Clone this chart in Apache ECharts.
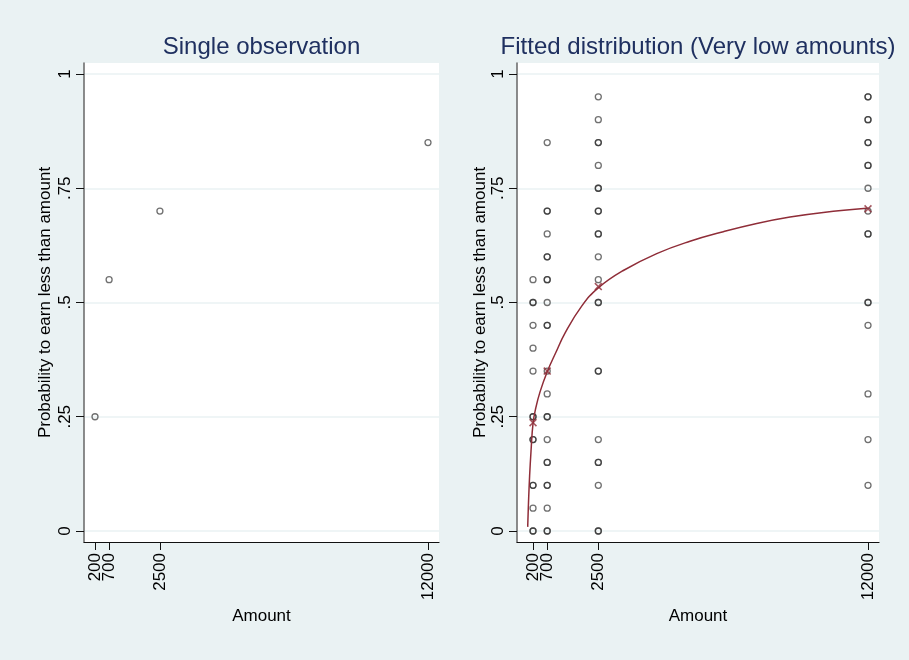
<!DOCTYPE html>
<html><head><meta charset="utf-8">
<script src="https://cdn.jsdelivr.net/npm/echarts@6/dist/echarts.min.js"></script>
<style>html,body{margin:0;padding:0;background:#fff}#c{width:909px;height:660px}</style>
</head><body><div id="c"></div>
<script>
// ---- data ----
const xTicks = [200, 700, 2500, 12000];
const xTickLabels = ['200', '700', '2500', '12000'];
const yTicks = [0, 0.25, 0.5, 0.75, 1];
const yTickLabels = ['0', '.25', '.5', '.75', '1'];

// Left panel: single observation
const singleX = [200, 700, 2500, 12000];
const singleY = [0.25, 0.55, 0.70, 0.85];

// Right panel: observations per amount (duplicates drawn twice)
const obs200 = [0, 0, 0.05, 0.10, 0.10, 0.20, 0.20, 0.25, 0.25, 0.35, 0.40, 0.45, 0.50, 0.50, 0.55];
const obs700 = [0, 0, 0.05, 0.10, 0.10, 0.15, 0.15, 0.20, 0.25, 0.25, 0.30, 0.35, 0.45, 0.45, 0.50, 0.55, 0.55, 0.60, 0.60, 0.65, 0.70, 0.70, 0.85];
const obs2500 = [0, 0, 0.10, 0.15, 0.15, 0.20, 0.35, 0.35, 0.50, 0.50, 0.55, 0.60, 0.65, 0.65, 0.70, 0.70, 0.75, 0.75, 0.80, 0.85, 0.85, 0.90, 0.95];
const obs12000 = [0.10, 0.20, 0.30, 0.45, 0.50, 0.50, 0.65, 0.65, 0.70, 0.75, 0.80, 0.80, 0.85, 0.85, 0.90, 0.90, 0.95, 0.95];

// Fitted values at the amounts
const fitX = [200, 700, 2500, 12000];
const fitY = [0.237, 0.35, 0.535, 0.705];

// Fitted distribution curve
const curveX = [13, 40, 80, 130, 200, 300, 450, 704, 1000, 1327, 1915, 2500, 3381, 4557, 5730, 6903, 8080, 9253, 10425, 11954];
const curveY = [0.009, 0.06, 0.12, 0.175, 0.235, 0.27, 0.305, 0.349, 0.39, 0.433, 0.492, 0.532, 0.57, 0.607, 0.634, 0.655, 0.673, 0.687, 0.697, 0.706];

// ---- build ----
const FONT = "'Liberation Sans', Arial, sans-serif";
const BG = '#eaf2f3';
const MAROON = '#8f2d38';
const pairs = (xs, ys) => xs.map((x, i) => [x, ys[i]]);
const col = (x, ys) => ys.map(y => [x, y]);
const rightObs = [].concat(col(200, obs200), col(700, obs700), col(2500, obs2500), col(12000, obs12000));
const lookup = (ticks, labels) => v => { const i = ticks.findIndex(t => Math.abs(t - v) < 1e-9); return i >= 0 ? labels[i] : ''; };

function xAxis(idx, min, max, labelVals, main) {
  return {
    type: 'value', gridIndex: idx, min: min, max: max, position: 'bottom', offset: 0,
    name: main ? 'Amount' : '', nameLocation: 'middle', nameGap: 63,
    nameTextStyle: { fontFamily: FONT, fontSize: 17, color: '#000' },
    axisLine: { show: main, onZero: false, lineStyle: { color: '#111', width: 1.2 } },
    axisTick: { show: main, length: 8, customValues: xTicks, lineStyle: { color: '#111' } },
    axisLabel: { customValues: labelVals, hideOverlap: false, rotate: 90, margin: 11, fontFamily: FONT, fontSize: 17, color: '#000',
      formatter: lookup(xTicks, xTickLabels) },
    splitLine: { show: false }
  };
}
function yAxis(idx, gap) {
  return {
    type: 'value', gridIndex: idx, min: -0.0241, max: 1.0241,
    name: 'Probability to earn less than amount', nameLocation: 'middle', nameGap: gap,
    nameTextStyle: { fontFamily: FONT, fontSize: 17, color: '#000' },
    axisLine: { show: true, onZero: false, lineStyle: { color: '#666', width: 1.5 } },
    axisTick: { show: true, length: 8, customValues: yTicks, lineStyle: { color: '#111' } },
    axisLabel: { customValues: yTicks, hideOverlap: false, rotate: 90, margin: 10, fontFamily: FONT, fontSize: 17, color: '#000',
      formatter: lookup(yTicks, yTickLabels) },
    splitLine: { show: true, lineStyle: { color: BG, width: 1.5 } }
  };
}
const circleStyle = { color: 'rgba(255,255,255,0)', borderColor: 'rgba(45,45,45,0.85)', borderWidth: 1.3 };
const xSym = 'path://M0,1.4L1.4,0L5,3.6L8.6,0L10,1.4L6.4,5L10,8.6L8.6,10L5,6.4L1.4,10L0,8.6L3.6,5Z';

const option = {
  backgroundColor: BG,
  animation: false,
  title: [
    { text: 'Single observation', left: 256.5, top: 30, textAlign: 'center',
      textStyle: { fontFamily: FONT, fontSize: 24, fontWeight: 'normal', color: '#1f3060' } },
    { text: 'Fitted distribution (Very low amounts)', left: 693, top: 30, textAlign: 'center',
      textStyle: { fontFamily: FONT, fontSize: 24, fontWeight: 'normal', color: '#1f3060' } }
  ],
  grid: [
    { left: 84, top: 63, width: 355, height: 479, show: true, backgroundColor: '#fff', borderWidth: 0 },
    { left: 517, top: 63, width: 362, height: 479, show: true, backgroundColor: '#fff', borderWidth: 0 }
  ],
  xAxis: [
    xAxis(0, -190, 12390, [700, 2500, 12000], true),
    xAxis(1, -364, 12387, [700, 2500, 12000], true),
    xAxis(0, -190, 12390, [200], false),
    xAxis(1, -364, 12387, [200], false)
  ],
  yAxis: [yAxis(0, 30), yAxis(1, 20)],
  series: [
    { type: 'scatter', xAxisIndex: 0, yAxisIndex: 0, data: pairs(singleX, singleY),
      symbol: 'circle', symbolSize: 6, itemStyle: circleStyle },
    { type: 'scatter', xAxisIndex: 1, yAxisIndex: 1, data: rightObs,
      symbol: 'circle', symbolSize: 6, itemStyle: circleStyle },
    { type: 'line', xAxisIndex: 1, yAxisIndex: 1, data: pairs(curveX, curveY), smooth: 0.45,
      showSymbol: false, lineStyle: { color: MAROON, width: 1.5 }, z: 3 },
    { type: 'scatter', xAxisIndex: 1, yAxisIndex: 1, data: pairs(fitX, fitY),
      symbol: xSym, symbolSize: 8, itemStyle: { color: MAROON }, z: 4 }
  ]
};
const chart = echarts.init(document.getElementById('c'), null, { renderer: 'canvas' });
chart.setOption(option);
</script></body></html>
